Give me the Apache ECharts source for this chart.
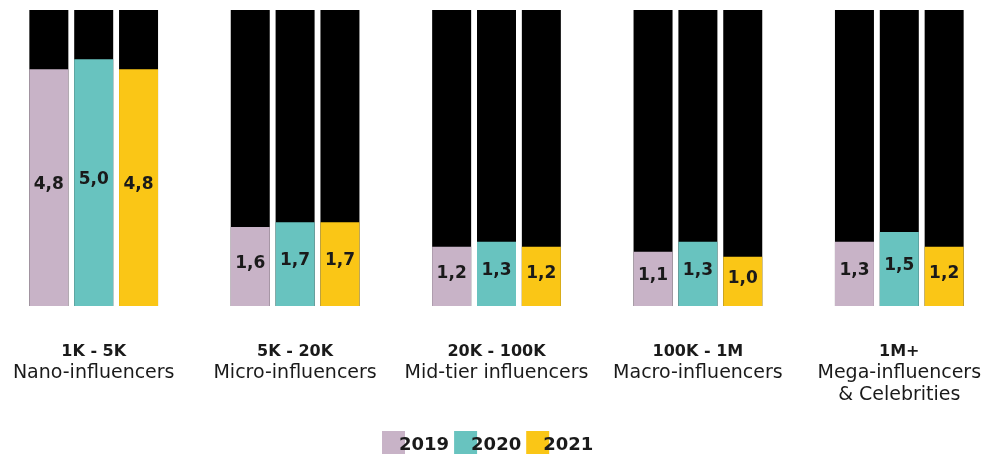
<!DOCTYPE html>
<html>
<head>
<meta charset="utf-8">
<script src="https://cdn.jsdelivr.net/npm/echarts@6/dist/echarts.min.js"></script>
<style>
  html, body { margin: 0; padding: 0; background: #fff; }
  #chart { width: 986px; height: 454px; }
</style>
</head>
<body>
<div id="chart"></div>
<script>
var ranges = ['1K - 5K', '5K - 20K', '20K - 100K', '100K - 1M', '1M+'];
var names = ['Nano-influencers', 'Micro-influencers', 'Mid-tier influencers', 'Macro-influencers', 'Mega-influencers\n& Celebrities'];
var years = ['2019', '2020', '2021'];
var v2019 = [4.8, 1.6, 1.2, 1.1, 1.3];
var v2020 = [5.0, 1.7, 1.3, 1.3, 1.5];
var v2021 = [4.8, 1.7, 1.2, 1.0, 1.2];
var colors = ['#c8b3c7', '#68c3bf', '#fac616'];

var font = '"DejaVu Sans", sans-serif';

function makeSeries(name, data, color) {
    return {
        name: name,
        type: 'bar',
        data: data,
        barWidth: 39,
        barGap: '15%',
        itemStyle: { color: color },
        showBackground: true,
        backgroundStyle: { color: '#000', opacity: 1 },
        label: {
            show: true,
            position: 'inside',
            offset: [0, -3],
            fontFamily: font,
            fontWeight: 'bold',
            fontSize: 17,
            color: '#1a1a1a',
            formatter: function (p) { return p.value.toFixed(1).replace('.', ','); }
        }
    };
}

var myChart = echarts.init(document.getElementById('chart'));
myChart.setOption({
    animation: false,
    textStyle: { fontFamily: font },
    grid: { left: -7, width: 1007, top: 10, bottom: 148, outerBoundsMode: 'none' },
    legend: {
        data: years,
        top: 426,
        left: 377,
        itemWidth: 23,
        itemHeight: 28,
        itemGap: 5,
        icon: 'rect',
        textStyle: {
            fontFamily: font,
            fontWeight: 'bold',
            fontSize: 18,
            color: '#1a1a1a',
            padding: [0, 0, 0, -11]
        }
    },
    xAxis: {
        type: 'category',
        data: ranges,
        axisLine: { show: false },
        axisTick: { show: false },
        axisLabel: {
            margin: 36,
            interval: 0,
            color: '#1a1a1a',
            formatter: function (v, i) {
                var parts = names[i].split('\n');
                return '{a|' + v + '}\n' + parts.map(function (s) { return '{b|' + s + '}'; }).join('\n');
            },
            rich: {
                a: { fontFamily: font, fontWeight: 'bold', fontSize: 16, lineHeight: 20, color: '#1a1a1a' },
                b: { fontFamily: font, fontSize: 19, lineHeight: 22, color: '#1a1a1a' }
            }
        }
    },
    yAxis: {
        type: 'value',
        min: 0,
        max: 6,
        show: false
    },
    series: [
        makeSeries(years[0], v2019, colors[0]),
        makeSeries(years[1], v2020, colors[1]),
        makeSeries(years[2], v2021, colors[2])
    ]
});
</script>
</body>
</html>
